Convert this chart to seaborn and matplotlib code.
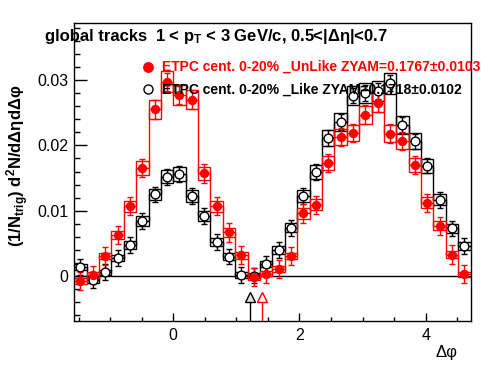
import numpy as np
import pandas as pd
import seaborn as sns
import matplotlib
matplotlib.use("Agg")
import matplotlib.pyplot as plt
from matplotlib.ticker import MultipleLocator, FixedLocator, FixedFormatter

# 32 bins from -pi/2 to 3pi/2
n_bins = 32
edges = np.linspace(-np.pi / 2, 3 * np.pi / 2, n_bins + 1)
centers = 0.5 * (edges[:-1] + edges[1:])

unlike = [-0.0007, 0.0002, 0.0031, 0.0063, 0.0107, 0.0165, 0.0255, 0.0297,
          0.0277, 0.0270, 0.0157, 0.0107, 0.0067, 0.0032, -0.0001, 0.0004,
          0.0011, 0.0031, 0.0096, 0.0109, 0.0173, 0.0213, 0.0219, 0.0247,
          0.0265, 0.0218, 0.0207, 0.0170, 0.0112, 0.0077, 0.0033, 0.0003]
like = [0.0014, -0.0006, 0.0006, 0.0028, 0.0048, 0.0084, 0.0125, 0.0152,
        0.0156, 0.0123, 0.0092, 0.0052, 0.0030, 0.0002, 0.0001, 0.0019,
        0.0040, 0.0074, 0.0123, 0.0159, 0.0211, 0.0236, 0.0276, 0.0280,
        0.0283, 0.0295, 0.0231, 0.0206, 0.0169, 0.0117, 0.0073, 0.0046]
unlike_err = 0.0014
like_err = 0.0012

# ZYAM minimum positions (like, unlike)
zyam_phi = [1.215, 1.41]

label_unlike = "ETPC cent. 0-20% _UnLike ZYAM=0.1767\u00b10.0103"
label_like = "ETPC cent. 0-20% _Like ZYAM=0.1718\u00b10.0102"

df = pd.DataFrame({"dphi": np.concatenate([centers, centers]),
                   "val": unlike + like,
                   "set": ["unlike"] * n_bins + ["like"] * n_bins})

sns.set_theme(style="white")
plt.rcParams["font.family"] = ["Liberation Sans", "DejaVu Sans"]
plt.rcParams["text.color"] = "black"
plt.rcParams["mathtext.fontset"] = "custom"
plt.rcParams["mathtext.rm"] = "Liberation Sans"
plt.rcParams["mathtext.bf"] = "Liberation Sans:bold"
plt.rcParams["mathtext.it"] = "Liberation Sans:italic"

fig = plt.figure(figsize=(4.96, 3.74), dpi=100)
ax = fig.add_axes([0.1496, 0.1425, 0.7992, 0.796])

width = edges[1] - edges[0]
for vals, err, col in [(like, like_err, "black"), (unlike, unlike_err, "red")]:
    v = np.array(vals)
    sysb = 0.04 * np.abs(v) + 0.0004
    ax.stairs(v, edges, color=col, lw=1, baseline=None, zorder=2)
    ax.bar(centers, 2 * sysb, bottom=v - sysb, width=width, fill=False,
           edgecolor=col, lw=1, zorder=2)
    ax.errorbar(centers, v, yerr=err, fmt="none", ecolor=col, elinewidth=1,
                capsize=2, capthick=1, zorder=3)

sns.scatterplot(data=df[df["set"] == "like"], x="dphi", y="val", ax=ax,
                marker="o", s=40, facecolor="white", edgecolor="black",
                linewidth=1, zorder=4, legend=False)
sns.scatterplot(data=df[df["set"] == "unlike"], x="dphi", y="val", ax=ax,
                marker="o", s=46, color="red", edgecolor="red",
                linewidth=0, zorder=5, legend=False)

ax.axhline(0, color="black", lw=1, zorder=1)

# ZYAM arrows
ax.vlines(zyam_phi, -0.0068, -0.0040, colors=["black", "red"], lw=1, zorder=3)
ax.plot(zyam_phi[0], -0.0032, marker="^", ms=7.7, mfc="#e0e0e0", mec="black", mew=1, zorder=4)
ax.plot(zyam_phi[1], -0.0032, marker="^", ms=7.7, mfc="#f2f2f2", mec="red", mew=1, zorder=4)

ax.set_xlim(-np.pi / 2, 3 * np.pi / 2)
ax.set_ylim(-0.0068, 0.0387)
ax.set_xlabel("")
ax.set_ylabel("")

ax.xaxis.set_major_locator(FixedLocator([0, 2, 4]))
ax.xaxis.set_minor_locator(MultipleLocator(0.5))
ax.yaxis.set_major_locator(FixedLocator([0, 0.01, 0.02, 0.03]))
ax.yaxis.set_major_formatter(FixedFormatter(["0", "0.01", "0.02", "0.03"]))
ax.yaxis.set_minor_locator(MultipleLocator(0.002))
ax.tick_params(axis="x", which="major", direction="in", length=5.8, width=1,
               labelsize=11.5, pad=5, color="black", labelcolor="black")
ax.tick_params(axis="x", which="minor", direction="in", length=2.9, width=1, color="black")
ax.tick_params(axis="y", which="major", direction="in", length=9.4, width=1,
               labelsize=11.5, pad=4, color="black", labelcolor="black")
ax.tick_params(axis="y", which="minor", direction="in", length=4.3, width=1, color="black")
ax.tick_params(bottom=True, left=True, which="both")
for s in ax.spines.values():
    s.set_color("black")
    s.set_linewidth(1)

# legend
fig.text(161.5 / 496, 1 - 66.7 / 374, label_unlike, color="red", fontsize=10,
         fontweight="bold", va="center", ha="left")
fig.text(161.5 / 496, 1 - 89.3 / 374, label_like, color="black", fontsize=10,
         fontweight="bold", va="center", ha="left")
fig.lines.append(plt.Line2D([148 / 496], [1 - 66.7 / 374], marker="o", ms=6.8,
                            mfc="red", mec="red", transform=fig.transFigure))
fig.lines.append(plt.Line2D([148 / 496], [1 - 89.3 / 374], marker="o", ms=6.5,
                            mfc="white", mec="black", mew=1, transform=fig.transFigure))

# titles
fig.text(45 / 496, 1 - 37 / 374, "global tracks", fontsize=12, fontweight="bold",
         color="black", va="center", ha="left")
fig.text(155 / 496, 1 - 37 / 374, r"1 < p$_\mathbf{T}$ < 3 GeV/c, 0.5<|Δη|<0.7",
         fontsize=12, fontweight="bold", color="black", va="center", ha="left")
fig.text(18 / 496, 1 - 166 / 374, r"(1/N$_\mathbf{trig}$) d$^\mathbf{2}$N/dΔηdΔφ",
         fontsize=12, fontweight="bold", color="black", rotation=90,
         va="center", ha="center")
fig.text(458 / 496, 1 - 352 / 374, "Δφ", fontsize=12, color="black",
         va="center", ha="right")

fig.savefig("out.png", dpi=100, facecolor="white")
